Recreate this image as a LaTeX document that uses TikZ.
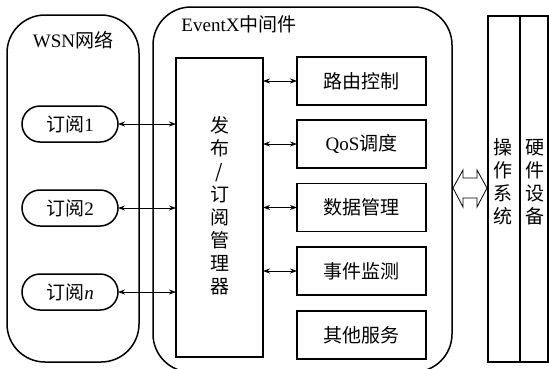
\documentclass[tikz,border=0pt]{standalone}
\usepackage{fontspec}
\setmainfont{Liberation Serif}
\newfontfamily\cjk{Noto Sans CJK SC}
\usetikzlibrary{arrows.meta}
\begin{document}
\begin{tikzpicture}[x=1pt,y=-1pt,
  every node/.style={inner sep=0pt,outer sep=0pt},
  txt/.style={font=\fontsize{19}{23}\selectfont},
  container/.style={draw,line width=1.5pt,rounded corners=38pt},
  subnode/.style={draw,line width=1.5pt,rounded corners=18pt,minimum width=96,minimum height=36,txt},
  srv/.style={draw,line width=1.5pt,minimum width=129,minimum height=48,txt},
  col/.style={draw,line width=1.5pt,minimum height=346},
  vtext/.style={align=center,font=\fontsize{19}{23}\selectfont\cjk},
  dbl/.style={line width=0.8pt,{Stealth[length=7pt,width=5pt]}-{Stealth[length=7pt,width=5pt]}}
]
\useasboundingbox (0,0) rectangle (549,368);
\clip (0,0) rectangle (549,368);
\fill[white] (0,0) rectangle (549,368);

% containers
\node[container,minimum width=132,minimum height=347] (wsn) at (73,188.5) {};
\node[container,minimum width=299,minimum height=365] (mw) at (302.5,189.5) {};
\node[txt] (wsnlabel) at (73,40) {WSN{\cjk 网络}};
\node[txt] (mwlabel) at (239,24) {EventX{\cjk 中间件}};

% subscriptions
\node[subnode] (s1) at (70,124) {{\cjk 订阅}1};
\node[subnode] (s2) at (70,208) {{\cjk 订阅}2};
\node[subnode] (sn) at (70,292) {{\cjk 订阅}\textit{n}};

% manager
\node[draw,line width=1.5pt,minimum width=87,minimum height=299] (mgr) at (219.5,207.5) {};
\node[vtext] (mgrtext) at (219.5,206) {发\\布\\/\\订\\阅\\管\\理\\器};

% services
\node[srv] (r1) at (361.5,81) {\cjk 路由控制};
\node[srv] (r2) at (361.5,144) {QoS{\cjk 调度}};
\node[srv] (r3) at (361.5,207.5) {\cjk 数据管理};
\node[srv] (r4) at (361.5,271) {\cjk 事件监测};
\node[srv] (r5) at (361.5,335) {\cjk 其他服务};

% OS / hardware
\node[col,minimum width=32] (os) at (504,189) {};
\node[col,minimum width=28] (hw) at (534,189) {};
\node[vtext] (ostext) at (503,182) {操\\作\\系\\统};
\node[vtext] (hwtext) at (535,182) {硬\\件\\设\\备};

% arrows
\draw[dbl] (s1.east) -- (s1 -| mgr.west);
\draw[dbl] (s2.east) -- (s2 -| mgr.west);
\draw[dbl] (sn.east) -- (sn -| mgr.west);
\draw[dbl] (r1 -| mgr.east) -- (r1.west);
\draw[dbl] (r2 -| mgr.east) -- (r2.west);
\draw[dbl] (r3 -| mgr.east) -- (r3.west);
\draw[dbl] (r4 -| mgr.east) -- (r4.west);

% hollow double arrow
\draw[line width=0.8pt,fill=white] (453,188) -- (463,170) -- (463,178) -- (477,178) -- (477,170) -- (487,188)
  -- (477,207) -- (477,198) -- (463,198) -- (463,207) -- cycle;
\end{tikzpicture}
\end{document}
